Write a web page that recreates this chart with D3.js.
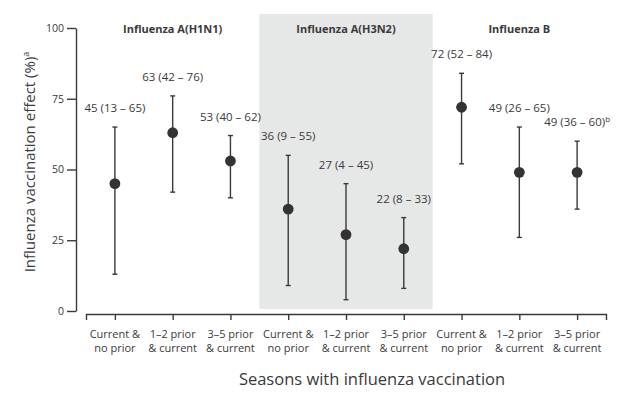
<!DOCTYPE html>
<html>
<head>
<meta charset="utf-8">
<script src="https://cdn.jsdelivr.net/npm/d3@7"></script>
<style>
  html, body { margin: 0; padding: 0; background: #fff; }
  svg { display: block; font-family: "Open Sans", "Noto Sans", sans-serif; }
</style>
</head>
<body>
<svg id="chart" width="632" height="401"></svg>
<script>
// ---- data ----
const categories = ["c1", "c2", "c3", "c4", "c5", "c6", "c7", "c8", "c9"];
const categoryLines = [
  ["Current &", "no prior"], ["1\u20132 prior", "& current"], ["3\u20135 prior", "& current"],
  ["Current &", "no prior"], ["1\u20132 prior", "& current"], ["3\u20135 prior", "& current"],
  ["Current &", "no prior"], ["1\u20132 prior", "& current"], ["3\u20135 prior", "& current"]
];
const groups = ["Influenza A(H1N1)", "Influenza A(H3N2)", "Influenza B"];
const groupOf = [0, 0, 0, 1, 1, 1, 2, 2, 2];
const estimate = [45, 63, 53, 36, 27, 22, 72, 49, 49];
const lower = [13, 42, 40, 9, 4, 8, 52, 26, 36];
const upper = [65, 76, 62, 55, 45, 33, 84, 65, 60];
const footnote = ["", "", "", "", "", "", "", "", "b"];
const yTicks = [0, 25, 50, 75, 100];

// ---- layout ----
const svg = d3.select("#chart");
const ink = "#3a3a3a";
const x = d3.scalePoint().domain(categories).range([86, 606]).padding(0.5);
const y = d3.scaleLinear().domain([0, 100]).range([311, 28]);
const step = x.step();

// shaded H3N2 region
const g2 = categories.filter((c, i) => groupOf[i] === 1);
svg.append("rect")
  .attr("x", x(g2[0]) - step / 2)
  .attr("width", x(g2[g2.length - 1]) - x(g2[0]) + step)
  .attr("y", y(105))
  .attr("height", y(0) - 2 - y(105))
  .attr("fill", "#e6e7e7");

// y axis
const yAxis = svg.append("g")
  .attr("transform", "translate(76,0)")
  .call(d3.axisLeft(y).tickValues(yTicks).tickSize(9).tickSizeOuter(0).tickPadding(3));
yAxis.selectAll("path, line").attr("stroke", ink).attr("stroke-width", 1.4);
yAxis.selectAll("text").attr("fill", ink).attr("font-size", 10.5).style("font-family", "'Open Sans', sans-serif");

// x axis
const xAxis = svg.append("g")
  .attr("transform", "translate(0,314)")
  .call(d3.axisBottom(x).tickSize(6).tickSizeOuter(6).tickFormat(""));
xAxis.selectAll("path, line").attr("stroke", ink).attr("stroke-width", 1.4);

// category labels
categories.forEach((c, i) => {
  const t = svg.append("text")
    .attr("x", x(c))
    .attr("y", 338)
    .attr("text-anchor", "middle")
    .attr("font-size", 11)
    .attr("fill", ink);
  categoryLines[i].forEach((line, k) => {
    t.append("tspan").attr("x", x(c)).attr("dy", k === 0 ? 0 : 14).text(line);
  });
});

// group titles
groups.forEach((gname, gi) => {
  const cs = categories.filter((c, i) => groupOf[i] === gi);
  svg.append("text")
    .attr("x", x(cs[1]))
    .attr("y", 33)
    .attr("text-anchor", "middle")
    .attr("font-size", 11)
    .attr("font-weight", "bold")
    .attr("fill", ink)
    .text(gname);
});

// error bars
const capW = 2.5;
const pts = svg.append("g");
categories.forEach((c, i) => {
  const cx = x(c);
  pts.append("line").attr("x1", cx).attr("x2", cx).attr("y1", y(lower[i])).attr("y2", y(upper[i]))
    .attr("stroke", ink).attr("stroke-width", 1.4);
  [lower[i], upper[i]].forEach(v => {
    pts.append("line").attr("x1", cx - capW).attr("x2", cx + capW).attr("y1", y(v)).attr("y2", y(v))
      .attr("stroke", ink).attr("stroke-width", 1.4);
  });
  pts.append("circle").attr("cx", cx).attr("cy", y(estimate[i])).attr("r", 5.4).attr("fill", "#333");
  const lab = pts.append("text")
    .attr("x", cx)
    .attr("y", y(upper[i]) - 15)
    .attr("text-anchor", "middle")
    .attr("font-size", 11.5)
    .attr("fill", ink)
    .text(`${estimate[i]} (${lower[i]} \u2013 ${upper[i]})`);
  if (footnote[i]) {
    lab.append("tspan").attr("dy", -4).attr("font-size", 8).text(footnote[i]);
  }
});

// axis titles
svg.append("text")
  .attr("x", 372).attr("y", 385)
  .attr("text-anchor", "middle")
  .attr("font-size", 16.5)
  .attr("fill", ink)
  .text("Seasons with influenza vaccination");

const yt = svg.append("text")
  .attr("transform", "translate(35,162) rotate(-90)")
  .attr("text-anchor", "middle")
  .attr("font-size", 15)
  .attr("fill", ink)
  .text("Influenza vaccination effect (%)");
yt.append("tspan").attr("dy", -6).attr("font-size", 9).text("a");
</script>
</body>
</html>
